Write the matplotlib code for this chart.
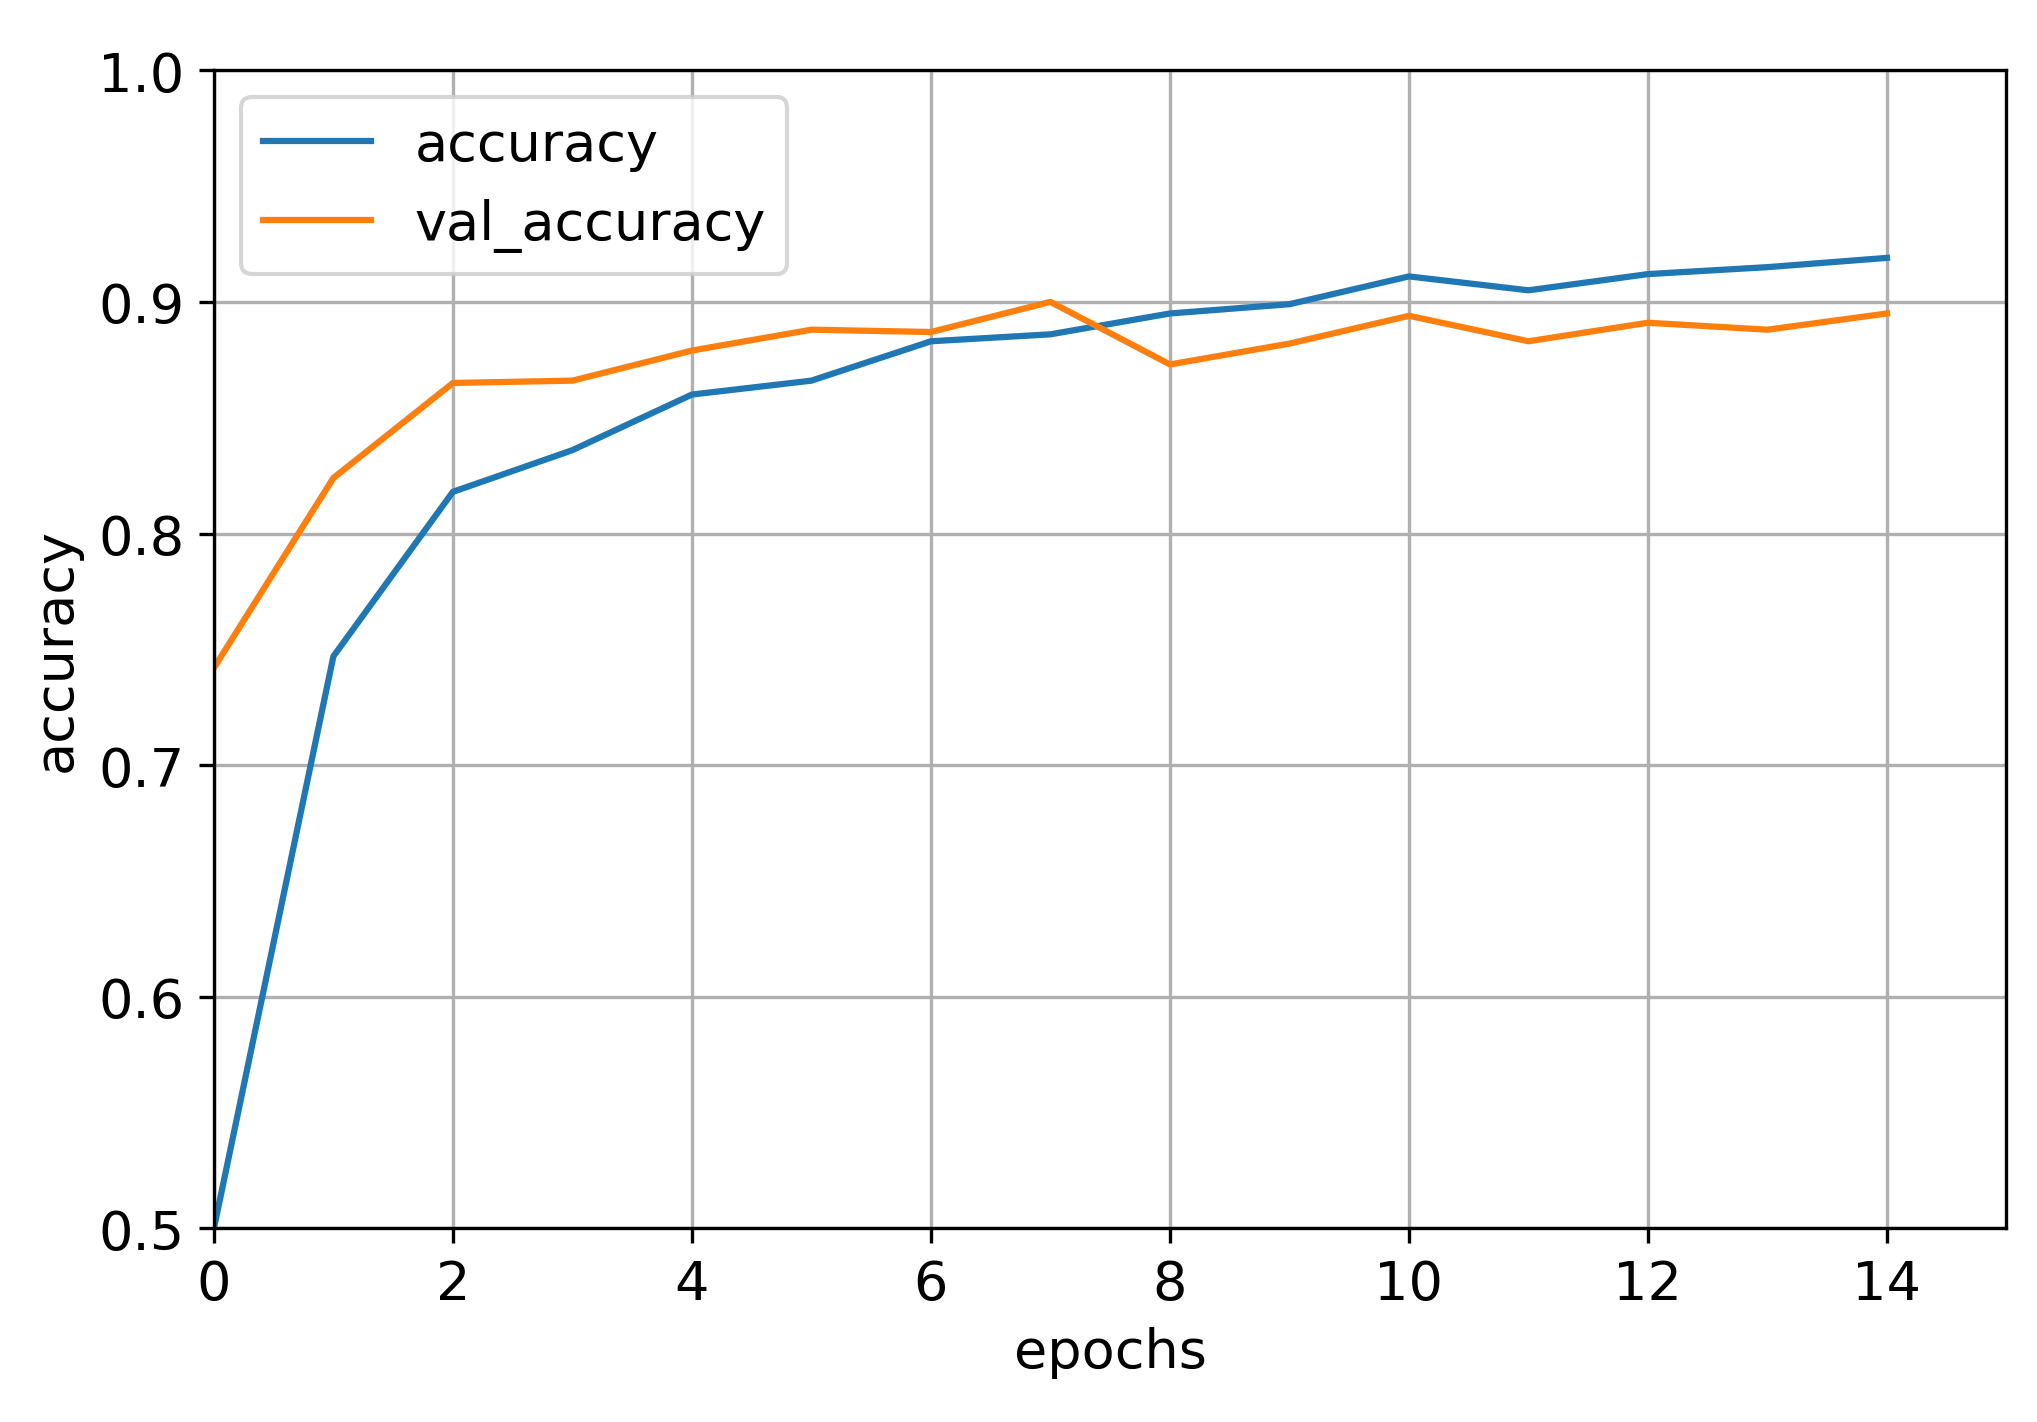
import matplotlib
matplotlib.use("Agg")
import matplotlib.pyplot as plt

epochs = list(range(15))
accuracy = [0.500, 0.747, 0.818, 0.836, 0.860, 0.866, 0.883, 0.886, 0.895, 0.899, 0.911, 0.905, 0.912, 0.915, 0.919]
val_accuracy = [0.742, 0.824, 0.865, 0.866, 0.879, 0.888, 0.887, 0.900, 0.873, 0.882, 0.894, 0.883, 0.891, 0.888, 0.895]

fig = plt.figure(figsize=(6.79, 4.743), dpi=300)
ax = fig.add_axes([0.105, 0.136, 0.88, 0.814])
ax.plot(epochs, accuracy, color="#1f77b4", lw=1.5, label="accuracy")
ax.plot(epochs, val_accuracy, color="#ff7f0e", lw=1.5, label="val_accuracy")
ax.set_xlim(0, 15)
ax.set_ylim(0.5, 1.0)
ax.set_xticks(range(0, 15, 2))
ax.set_yticks([0.5, 0.6, 0.7, 0.8, 0.9, 1.0])
ax.tick_params(labelsize=13)
ax.grid(True)
ax.set_xlabel("epochs", fontsize=13)
ax.set_ylabel("accuracy", fontsize=13)
ax.legend(loc="upper left", fontsize=13)
fig.savefig("out.png", dpi=300)
